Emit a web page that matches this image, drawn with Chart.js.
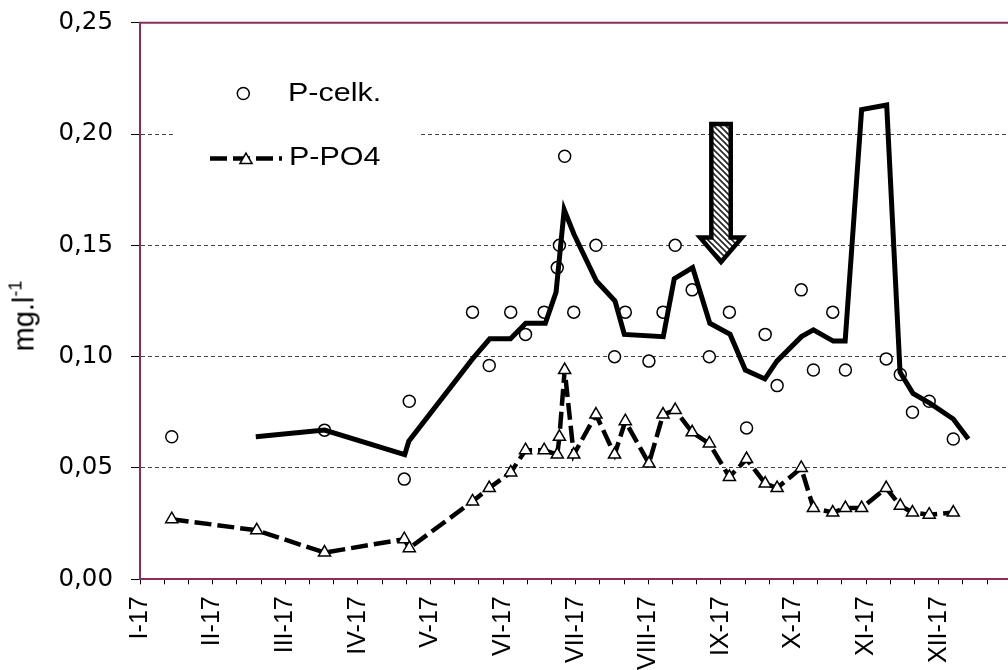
<!DOCTYPE html>
<html><head><meta charset="utf-8">
<script src="https://cdn.jsdelivr.net/npm/chart.js@4.4.0/dist/chart.umd.min.js"></script>
<style>
html,body{margin:0;padding:0;background:#fff;overflow:hidden;width:1008px;height:670px;}
#wrap{position:relative;width:1008px;height:670px;overflow:hidden;}
#c{display:block;}
#ytitle{position:absolute;left:24px;top:316px;transform:translate(-50%,-50%) rotate(-90deg);font-family:"Liberation Sans",Arial,sans-serif;font-size:29px;white-space:nowrap;color:#000;line-height:1;}
#ytitle sup{font-size:18px;vertical-align:12px;line-height:0;}
</style></head><body>
<div id="wrap"><canvas id="c" width="1060" height="670"></canvas><div id="ytitle">mg.l<sup>-1</sup></div></div>
<script>
// ---- data ----
const monthLabels = ['I-17','II-17','III-17','IV-17','V-17','VI-17','VII-17','VIII-17','IX-17','X-17','XI-17','XII-17'];
const yTickValues = [0, 0.05, 0.10, 0.15, 0.20, 0.25];
// sampling dates, day of year 2017
const sampleDay = [13.3, 48.9, 77.3, 110.7, 112.8, 139.3, 146.3, 155.3, 161.5, 169.3, 174.8, 175.7, 177.9, 181.7, 191.0, 198.8, 203.3, 213.2, 219.1, 224.2, 231.3, 238.5, 246.9, 254.1, 261.9, 266.9, 277.0, 282.1, 290.2, 295.5, 302.3, 312.6, 318.5, 323.6, 330.6, 340.7];
const pTotal = [0.064, null, 0.067, 0.045, 0.080, 0.120, 0.096, 0.120, 0.110, 0.120, 0.140, 0.150, 0.190, 0.120, 0.150, 0.100, 0.120, 0.098, 0.120, 0.150, 0.130, 0.100, 0.120, 0.068, 0.110, 0.087, 0.130, 0.094, 0.120, 0.094, null, 0.099, 0.092, 0.075, 0.080, 0.063];
const pPO4 = [0.027, 0.022, 0.012, 0.018, 0.014, 0.035, 0.041, 0.048, 0.058, 0.058, 0.056, 0.064, 0.094, 0.056, 0.074, 0.056, 0.071, 0.052, 0.074, 0.076, 0.066, 0.061, 0.046, 0.054, 0.043, 0.041, 0.050, 0.032, 0.030, 0.032, 0.032, 0.041, 0.033, 0.030, 0.029, 0.030];
// solid line (no legend entry)
const trendDay = [48.5, 77.3, 110.9, 112.6, 139.3, 146.5, 155.2, 161.6, 169.8, 174.3, 177.7, 181.8, 191.2, 199.0, 202.9, 219.2, 223.8, 231.5, 238.7, 247.2, 253.6, 261.8, 266.8, 277.1, 282.1, 290.4, 295.4, 302.3, 312.8, 318.4, 323.8, 331.0, 340.7, 347.0];
const trendValue = [0.064, 0.067, 0.056, 0.062, 0.099, 0.108, 0.108, 0.115, 0.115, 0.129, 0.166, 0.155, 0.134, 0.125, 0.110, 0.109, 0.135, 0.140, 0.115, 0.110, 0.094, 0.090, 0.098, 0.109, 0.112, 0.107, 0.107, 0.211, 0.213, 0.093, 0.0835, 0.079, 0.072, 0.063];
// arrow marker (day, values)
const arrowDay = 243.4;
const arrowTop = 0.2045, arrowNeck = 0.1535, arrowTip = 0.1425;

// ---- styles ----
const FAM = "'Liberation Sans', Arial, sans-serif";
const XFONT = {family: FAM, size: 25};
const YFONT = {family: "'DejaVu Sans', sans-serif", size: 24.5};
const FRAME = '#8e2a5c';
const DASH = [17, 6];
const AREA = {left: 140, right: 1011.3, top: 22.7, bottom: 579.3, canvasH: 670};

function hatchPattern(ctx) {
  const c = document.createElement('canvas'); c.width = 6; c.height = 6;
  const g = c.getContext('2d');
  g.fillStyle = '#fff'; g.fillRect(0, 0, 6, 6);
  g.strokeStyle = '#222'; g.lineWidth = 1.6;
  g.beginPath();
  g.moveTo(-3, 3); g.lineTo(3, 9);
  g.moveTo(0, 0); g.lineTo(6, 6);
  g.moveTo(3, -3); g.lineTo(9, 3);
  g.stroke();
  return ctx.createPattern(c, 'repeat');
}

function scaledText(ctx, txt, x, y, sx) {
  ctx.save(); ctx.translate(x, y); ctx.scale(sx, 1); ctx.fillText(txt, 0, 0); ctx.restore();
}

// pin the plot area to the reference geometry, draw frame top, arrow and legend
const pin = {
  id: 'pin',
  afterLayout(chart) {
    const a = chart.chartArea, {x, y} = chart.scales;
    a.left = AREA.left; a.right = AREA.right; a.top = AREA.top; a.bottom = AREA.bottom;
    a.width = a.right - a.left; a.height = a.bottom - a.top;
    x.left = a.left; x.right = a.right; x.width = a.width;
    x.top = a.bottom; x.bottom = AREA.canvasH; x.height = x.bottom - x.top;
    y.left = 0; y.right = a.left; y.width = a.left;
    y.top = a.top; y.bottom = a.bottom; y.height = a.height;
    x.configure(); y.configure();
  },
  beforeDatasetsDraw(chart) {
    const {ctx, chartArea: a} = chart;
    ctx.save(); ctx.strokeStyle = FRAME; ctx.lineWidth = 2;
    ctx.beginPath(); ctx.moveTo(a.left - 1, a.top); ctx.lineTo(a.right + 2, a.top); ctx.stroke(); ctx.restore();
  },
  afterDraw(chart) {
    const {ctx, chartArea: a, scales: {x, y}} = chart;
    // arrow
    const cx = x.getPixelForValue(arrowDay);
    const yt = y.getPixelForValue(arrowTop), yn = y.getPixelForValue(arrowNeck), yp = y.getPixelForValue(arrowTip);
    const sw = 9.7, hw = 21;
    ctx.save();
    ctx.beginPath();
    ctx.moveTo(cx - sw, yt); ctx.lineTo(cx - sw, yn); ctx.lineTo(cx - hw, yn);
    ctx.lineTo(cx, yp); ctx.lineTo(cx + hw, yn); ctx.lineTo(cx + sw, yn);
    ctx.lineTo(cx + sw, yt); ctx.closePath();
    ctx.fillStyle = hatchPattern(ctx); ctx.fill();
    ctx.lineWidth = 4.5; ctx.strokeStyle = '#000'; ctx.lineJoin = 'miter'; ctx.stroke();
    ctx.beginPath();
    ctx.restore();
    // legend
    const L = a.left;
    ctx.save();
    ctx.beginPath();
    ctx.fillStyle = '#fff';
    ctx.fillRect(L + 33, 62, 247, 125);
    ctx.fillStyle = '#000';
    ctx.font = '25px ' + FAM;
    ctx.textBaseline = 'middle'; ctx.textAlign = 'left';
    scaledText(ctx, 'P-celk.', L + 148, 94, 1.22);
    scaledText(ctx, 'P-PO4', L + 149, 158.5, 1.22);
    ctx.fillStyle = '#fff'; ctx.strokeStyle = '#000'; ctx.lineWidth = 1.5;
    ctx.beginPath(); ctx.arc(L + 103.3, 93.5, 6, 0, Math.PI * 2); ctx.closePath(); ctx.fill(); ctx.stroke();
    ctx.lineWidth = 4.5; ctx.setLineDash(DASH);
    ctx.beginPath(); ctx.moveTo(L + 70, 158.5); ctx.lineTo(L + 142, 158.5); ctx.stroke();
    ctx.setLineDash([]);
    ctx.lineWidth = 1.5; ctx.fillStyle = '#fff';
    const tx = L + 106, ty = 160, r = 7;
    ctx.beginPath();
    ctx.moveTo(tx, ty - r);
    ctx.lineTo(tx + r * Math.sin(2 * Math.PI / 3), ty - r * Math.cos(2 * Math.PI / 3));
    ctx.lineTo(tx + r * Math.sin(4 * Math.PI / 3), ty - r * Math.cos(4 * Math.PI / 3));
    ctx.closePath(); ctx.fill(); ctx.stroke();
    ctx.beginPath();
    ctx.restore();
  }
};

new Chart(document.getElementById('c'), {
  type: 'scatter',
  data: {
    datasets: [
      {
        label: 'trend',
        data: trendDay.map((d, i) => ({x: d, y: trendValue[i]})),
        showLine: true, borderColor: '#000', borderWidth: 5,
        pointRadius: 0, order: 0
      },
      {
        label: 'P-celk.',
        data: sampleDay.map((d, i) => ({x: d, y: pTotal[i]})).filter(p => p.y !== null),
        pointStyle: 'circle', pointRadius: 6, pointBorderWidth: 1.5,
        pointBorderColor: '#000', pointBackgroundColor: '#fff', order: 1
      },
      {
        label: 'P-PO4',
        data: sampleDay.map((d, i) => ({x: d, y: pPO4[i]})),
        showLine: true, borderColor: '#000', borderWidth: 4.5, borderDash: DASH,
        pointStyle: 'triangle', pointRadius: 7, pointBorderWidth: 1.5,
        pointBorderColor: '#000', pointBackgroundColor: '#fff', order: 2
      }
    ]
  },
  options: {
    responsive: false, animation: false, devicePixelRatio: 1,
    layout: {padding: {top: 13}},
    plugins: {legend: {display: false}, tooltip: {enabled: false}},
    scales: {
      x: {
        type: 'linear', min: 0, max: 365,
        afterBuildTicks: s => { s.ticks = Array.from({length: 37}, (_, i) => ({value: i * 365 / 36})); },
        grid: {display: true, drawOnChartArea: false, drawTicks: true, tickLength: 5, tickColor: '#000', tickWidth: 1},
        border: {display: true, color: FRAME, width: 2},
        ticks: {
          autoSkip: false, maxRotation: 90, minRotation: 90, padding: 12, color: '#000', font: XFONT,
          callback: (v, i) => (i % 3 === 0 && i / 3 < monthLabels.length) ? monthLabels[i / 3] : ''
        }
      },
      y: {
        min: 0, max: 0.25,
        afterBuildTicks: s => { s.ticks = yTickValues.map(v => ({value: v})); },
        grid: {
          color: c => (c.tick && (c.tick.value === 0 || c.tick.value === 0.25)) ? 'rgba(0,0,0,0)' : '#444',
          tickColor: '#000', tickLength: 9
        },
        border: {display: true, color: FRAME, width: 2, dash: [4, 3]},
        ticks: {padding: 18, color: '#000', font: YFONT, callback: v => v.toFixed(2).replace('.', ',')}
      }
    }
  },
  plugins: [pin]
});
</script>
</body></html>
